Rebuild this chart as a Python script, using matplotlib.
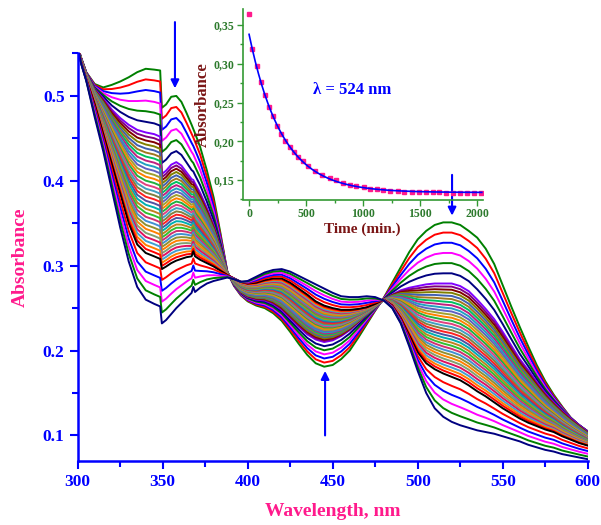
import numpy as np
import matplotlib.pyplot as plt
from matplotlib.ticker import MultipleLocator, FuncFormatter

plt.rcParams['font.family'] = ['Liberation Serif', 'DejaVu Serif']
plt.rcParams['font.weight'] = 'bold'

# wavelength nodes (nm)
wl = np.array([300, 302, 305, 310, 315, 320, 325, 330, 335, 340, 345, 348.5, 349.5,
               352, 355, 358, 361, 364, 367, 368, 369, 372, 376, 380, 384, 388, 392, 396,
               400, 405, 410, 415, 420, 425, 430, 435, 440, 445, 450, 455, 460, 465, 470, 475, 480,
               485, 490, 495, 500, 505, 510, 515, 520, 525, 530, 535, 540, 545, 550, 555, 560,
               565, 570, 575, 580, 585, 590, 595, 600])

# scan 1 (green, t = 0)
a_first = np.array([0.558, 0.545, 0.528, 0.514, 0.510, 0.513, 0.517, 0.522, 0.528, 0.532, 0.531, 0.530, 0.486,
                    0.490, 0.499, 0.500, 0.493, 0.480, 0.466, 0.461, 0.456, 0.440, 0.412, 0.380, 0.338, 0.293, 0.276, 0.265,
                    0.258, 0.253, 0.250, 0.244, 0.235, 0.222, 0.208, 0.195, 0.185, 0.181, 0.183, 0.190, 0.200, 0.215, 0.231, 0.247, 0.262,
                    0.280, 0.298, 0.316, 0.331, 0.341, 0.348, 0.351, 0.351, 0.348, 0.341, 0.333, 0.320, 0.302, 0.277, 0.252, 0.228,
                    0.205, 0.183, 0.164, 0.148, 0.134, 0.121, 0.112, 0.105])

# scan 7 (violet)
a_violet = np.array([0.558, 0.544, 0.527, 0.508, 0.497, 0.484, 0.474, 0.466, 0.460, 0.457, 0.455, 0.452, 0.408,
                     0.412, 0.419, 0.422, 0.418, 0.410, 0.402, 0.401, 0.397, 0.386, 0.368, 0.348, 0.322, 0.292, 0.278, 0.268,
                     0.263, 0.260, 0.259, 0.255, 0.248, 0.238, 0.228, 0.219, 0.213, 0.210, 0.212, 0.217, 0.224, 0.233, 0.242, 0.251, 0.260,
                     0.266, 0.271, 0.274, 0.276, 0.278, 0.279, 0.279, 0.279, 0.276, 0.270, 0.260, 0.249, 0.237, 0.222, 0.206, 0.190,
                     0.177, 0.163, 0.150, 0.139, 0.129, 0.120, 0.112, 0.104])

# scan 37 (black)
a_black = np.array([0.558, 0.540, 0.520, 0.490, 0.455, 0.420, 0.385, 0.350, 0.325, 0.315, 0.311, 0.308, 0.296,
                    0.299, 0.303, 0.306, 0.308, 0.310, 0.311, 0.317, 0.311, 0.307, 0.303, 0.299, 0.294, 0.289, 0.285, 0.281,
                    0.279, 0.280, 0.283, 0.285, 0.285, 0.280, 0.273, 0.266, 0.258, 0.253, 0.250, 0.248, 0.248, 0.249, 0.251, 0.255, 0.260,
                    0.253, 0.238, 0.218, 0.198, 0.185, 0.178, 0.173, 0.169, 0.165, 0.159, 0.152, 0.146, 0.139, 0.132, 0.126, 0.120,
                    0.115, 0.111, 0.107, 0.104, 0.099, 0.095, 0.091, 0.088])

# scan 42 (navy, last)
a_last = np.array([0.558, 0.538, 0.518, 0.475, 0.435, 0.390, 0.345, 0.305, 0.275, 0.260, 0.255, 0.252, 0.232,
                   0.236, 0.243, 0.250, 0.256, 0.262, 0.268, 0.275, 0.269, 0.274, 0.279, 0.282, 0.284, 0.286, 0.284, 0.281,
                   0.282, 0.287, 0.292, 0.295, 0.296, 0.293, 0.288, 0.283, 0.278, 0.273, 0.268, 0.264, 0.263, 0.263, 0.264, 0.263, 0.259,
                   0.250, 0.232, 0.205, 0.176, 0.150, 0.132, 0.122, 0.116, 0.112, 0.109, 0.106, 0.104, 0.102, 0.099, 0.096, 0.093,
                   0.089, 0.086, 0.083, 0.081, 0.078, 0.076, 0.074, 0.072])

# scan numbers of the four read spectra; scans in between lie evenly between them
anchor_idx = [0, 6, 36, 41]

colors = ['#008000', '#FF0000', '#0000FF', '#FF00FF', '#007F00', '#000080', '#8000FF', '#800080',
          '#800000', '#808000', '#4060B0', '#A07820', '#00C060', '#C02080', '#20A0C0', '#6060C0',
          '#A0A030', '#FF8000', '#20B040', '#E04080', '#40A0C0', '#808040', '#FF2020', '#5050A0',
          '#00B0B0', '#C08020', '#30C030', '#D03070', '#4090D0', '#909030', '#FF8000', '#80A070',
          '#E01060', '#40A0D0', '#FF7F00', '#FF0000', '#000000', '#FF0000', '#0000FF', '#FF00FF',
          '#008000', '#000080']

# kinetic trace at 524 nm
t_min = [0, 29, 67, 103, 138, 173, 208, 243, 278, 319, 360, 396, 431, 472, 513, 577, 642, 706,
         759, 823, 882, 941, 1005, 1064, 1122, 1175, 1239, 1304, 1362, 1427, 1491, 1550, 1609,
         1667, 1726, 1784, 1849, 1907, 1972, 2030]
a524 = [0.364, 0.319, 0.297, 0.277, 0.260, 0.244, 0.232, 0.220, 0.210, 0.201, 0.193, 0.186, 0.180,
        0.174, 0.168, 0.162, 0.157, 0.153, 0.150, 0.146, 0.144, 0.142, 0.141, 0.139, 0.138, 0.137,
        0.136, 0.136, 0.135, 0.135, 0.135, 0.135, 0.135, 0.135, 0.134, 0.134, 0.134, 0.134, 0.134, 0.134]

blue = '#0000FF'
pink = '#FF1A8C'

fig = plt.figure(figsize=(6.01, 5.25), dpi=100)
ax = fig.add_axes([0.1293, 0.1221, 0.8486, 0.776])

anchors = [a_first, a_violet, a_black, a_last]
for i, c in enumerate(colors):
    j = min(np.searchsorted(anchor_idx, i, side='right') - 1, len(anchor_idx) - 2)
    f = (i - anchor_idx[j]) / (anchor_idx[j + 1] - anchor_idx[j])
    y = anchors[j] + f * (anchors[j + 1] - anchors[j])
    ax.plot(wl, y, color=c, lw=1.4)

ax.set_xlim(300, 600)
ax.set_ylim(0.07, 0.55)
ax.xaxis.set_major_locator(MultipleLocator(50))
ax.xaxis.set_minor_locator(MultipleLocator(25))
ax.yaxis.set_major_locator(MultipleLocator(0.1))
ax.yaxis.set_minor_locator(MultipleLocator(0.05))
ax.yaxis.set_major_formatter(FuncFormatter(lambda v, pos: '%.1f' % v))
for s in ['top', 'right']:
    ax.spines[s].set_visible(False)
for s in ['left', 'bottom']:
    ax.spines[s].set_color(blue)
    ax.spines[s].set_linewidth(1.8)
ax.tick_params(which='both', direction='out', colors=blue, width=1.5)
ax.tick_params(which='major', length=6, labelsize=12.5)
ax.tick_params(which='minor', length=4)
for lab in ax.get_xticklabels() + ax.get_yticklabels():
    lab.set_fontweight('bold')
ax.set_xlabel('Wavelength, nm', color=pink, fontsize=14, fontweight='bold', labelpad=9)
ax.set_ylabel('Absorbance', color=pink, fontsize=14, fontweight='bold', labelpad=10)

# arrows
arr = dict(arrowstyle='-|>', color=blue, lw=1.5, mutation_scale=12, shrinkA=0, shrinkB=0)
ax.annotate('', xy=(357.2, 0.509), xytext=(357.2, 0.587), arrowprops=arr, annotation_clip=False)
ax.annotate('', xy=(445.5, 0.176), xytext=(445.5, 0.100), arrowprops=arr)
ax.annotate('', xy=(520.2, 0.359), xytext=(520.2, 0.407), arrowprops=arr)

# inset with kinetic trace
green = '#339933'
ins = fig.add_axes([0.404, 0.620, 0.399, 0.362])
ins.patch.set_alpha(0)
t = np.array(t_min, dtype=float)
a = np.array(a524)
# first-order fit (first point left out)
best = None
for k in np.linspace(0.001, 0.02, 400):
    X = np.column_stack([np.ones_like(t[1:]), np.exp(-k * t[1:])])
    coef = np.linalg.lstsq(X, a[1:], rcond=None)[0]
    err = np.sum((X @ coef - a[1:]) ** 2)
    if best is None or err < best[0]:
        best = (err, k, coef)
tt = np.linspace(0, 2040, 300)
ins.plot(t, a, 's', color='#FF1A8C', ms=3.2, mec='#FF1A8C')
ins.plot(tt, best[2][0] + best[2][1] * np.exp(-best[1] * tt), color=blue, lw=1.2)
ins.set_xlim(-55, 2047)
ins.set_ylim(0.125, 0.37)
ins.xaxis.set_major_locator(MultipleLocator(500))
ins.xaxis.set_minor_locator(MultipleLocator(250))
ins.yaxis.set_major_locator(MultipleLocator(0.05))
ins.yaxis.set_minor_locator(MultipleLocator(0.025))
ins.yaxis.set_major_formatter(FuncFormatter(lambda v, pos: ('%.2f' % v).replace('.', ',')))
for s in ['top', 'right']:
    ins.spines[s].set_visible(False)
for s in ['left', 'bottom']:
    ins.spines[s].set_color(green)
    ins.spines[s].set_linewidth(1.2)
ins.tick_params(which='both', direction='out', colors=green, labelcolor='#2D7A2D', width=1)
ins.tick_params(which='major', length=4, labelsize=8.5, pad=2)
ins.tick_params(which='minor', length=2.5)
for lab in ins.get_xticklabels() + ins.get_yticklabels():
    lab.set_fontweight('bold')
ins.set_xlabel('Time (min.)', color='#7A1515', fontsize=11, fontweight='bold', labelpad=2)
ins.set_ylabel('Absorbance', color='#7A1515', fontsize=12, fontweight='bold', labelpad=2)
ins.text(902, 0.266, '\u03bb = 524 nm', color=blue, fontsize=12, fontweight='bold', ha='center', va='center')

fig.savefig('out.png', dpi=100)
